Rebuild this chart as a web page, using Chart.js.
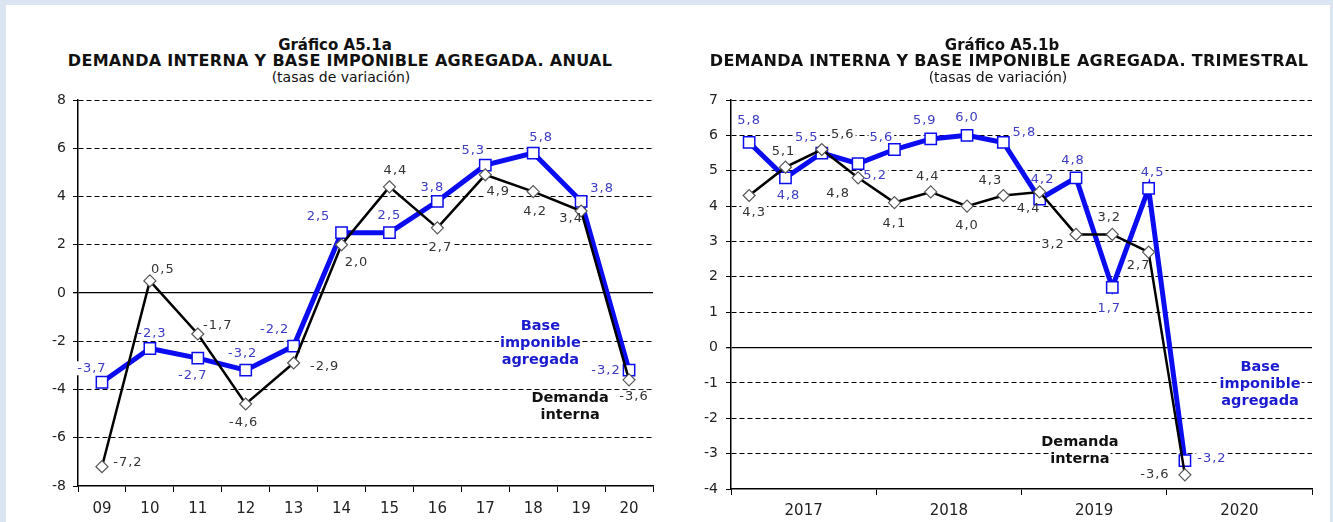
<!DOCTYPE html>
<html>
<head>
<meta charset="utf-8">
<script src="https://cdn.jsdelivr.net/npm/chart.js@4.4.0/dist/chart.umd.min.js"></script>
<style>
  html, body { margin: 0; padding: 0; background: #dbe5f1; }
  #frame { position: absolute; left: 6px; top: 5px; width: 1324px; height: 517px; background: #fff; }
  .box { position: absolute; top: 0; height: 517px; }
  #boxA { left: 0; width: 662px; }
  #boxB { left: 664px; width: 660px; }
  .ttl { position: absolute; left: 0; right: 0; text-align: center; color: #111; white-space: nowrap;
         font-family: "DejaVu Sans", sans-serif; line-height: 16px; }
  .t1 { top: 32px; font-weight: bold; font-size: 15px; }
  .t2 { top: 48px; font-weight: bold; font-size: 16px; letter-spacing: 0.3px; }
  .t3 { top: 64px; font-size: 14px; }
  canvas { position: absolute; left: 0; top: 0; }
</style>
</head>
<body>
<div id="frame">
  <div class="box" id="boxA">
    <div class="ttl t1" style="left:-4px;right:0">Gráfico A5.1a</div>
    <div class="ttl t2" style="left:6px;right:0">DEMANDA INTERNA Y BASE IMPONIBLE AGREGADA. ANUAL</div>
    <div class="ttl t3" style="left:8px;right:0">(tasas de variación)</div>
    <canvas id="chartA"></canvas>
  </div>
  <div class="box" id="boxB">
    <div class="ttl t1" style="left:4px;right:0">Gráfico A5.1b</div>
    <div class="ttl t2" style="left:18px;right:0">DEMANDA INTERNA Y BASE IMPONIBLE AGREGADA. TRIMESTRAL</div>
    <div class="ttl t3" style="left:-4px;right:0">(tasas de variación)</div>
    <canvas id="chartB"></canvas>
  </div>
</div>
<script>
// ---- annual chart data ----
const yearsA = ['09', '10', '11', '12', '13', '14', '15', '16', '17', '18', '19', '20'];
const demandaA = [-7.2, 0.5, -1.7, -4.6, -2.9, 2.0, 4.4, 2.7, 4.9, 4.2, 3.4, -3.6];
const baseA = [-3.7, -2.3, -2.7, -3.2, -2.2, 2.5, 2.5, 3.8, 5.3, 5.8, 3.8, -3.2];

// ---- quarterly chart data ----
const quartersB = [
  '2017T1', '2017T2', '2017T3', '2017T4', '2018T1', '2018T2', '2018T3', '2018T4',
  '2019T1', '2019T2', '2019T3', '2019T4', '2020T1', '2020T2', '2020T3', '2020T4'
];
const yearLabelsB = ['2017', '2018', '2019', '2020'];
const demandaB = [4.3, 5.1, 5.6, 4.8, 4.1, 4.4, 4.0, 4.3, 4.4, 3.2, 3.2, 2.7, -3.6];
const baseB = [5.8, 4.8, 5.5, 5.2, 5.6, 5.9, 6.0, 5.8, 4.2, 4.8, 1.7, 4.5, -3.2];

// label offsets (px from the point) for the value labels
const demandaAOff = [[26,-4],[13,-11],[20,-8],[-2,19],[31,4],[15,18],[6,-16],[3,20],[13,17],[2,20],[-10,8],[5,17]];
const baseAOff = [[-10,-14],[2,-15],[-5,17],[-3,-17],[-19,-16],[-23,-16],[0,-17],[-5,-14],[-12,-15],[8,-15],[21,-13],[-23,0]];
const demandaBOff = [[5,17],[-2,-16],[21,-15],[-20,16],[0,21],[-3,-15],[0,20],[-13,-15],[-11,17],[-23,10],[-3,-17],[-10,14],[-30,0]];
const baseBOff = [[0,-22],[3,18],[-15,-15],[17,12],[-13,-12],[-6,-18],[0,-18],[21,-10],[3,-19],[-3,-17],[-3,21],[4,-16],[27,-2]];

const FONT = '"DejaVu Sans", sans-serif';
const BLUE = '#0c0cf0';
const BLUE_TXT = '#3b3bc4';
const fmt = v => v.toFixed(1).replace('.', ',');

// draws value labels (white box behind, text above) and the series notes
function makeLabels(offsets, colors, notes) {
  return {
    id: 'ptLabels',
    beforeDatasetsDraw(chart) {
      const ctx = chart.ctx;
      ctx.save();
      ctx.font = '13px ' + FONT;
      ctx.letterSpacing = '1px';
      chart.data.datasets.forEach((ds, di) => {
        const meta = chart.getDatasetMeta(di);
        meta.data.forEach((pt, i) => {
          const o = offsets[di][i];
          if (!o) return;
          const w = ctx.measureText(fmt(ds.data[i])).width;
          ctx.fillStyle = '#fff';
          ctx.fillRect(pt.x + o[0] - w / 2 - 1, pt.y + o[1] - 7, w + 2, 14);
        });
      });
      ctx.letterSpacing = '0px';
      ctx.font = 'bold 14.5px ' + FONT;
      notes.forEach(n => {
        const x = chart.scales.x.getPixelForValue(n.x);
        const y = chart.scales.y.getPixelForValue(n.y);
        n.text.forEach((t, k) => {
          const w = ctx.measureText(t).width;
          ctx.fillStyle = '#fff';
          ctx.fillRect(x - w / 2 - 1, y + k * 17 - 8, w + 2, 16);
        });
      });
      ctx.restore();
    },
    afterDatasetsDraw(chart) {
      const ctx = chart.ctx;
      ctx.save();
      ctx.textAlign = 'center';
      ctx.textBaseline = 'middle';
      ctx.font = '13px ' + FONT;
      ctx.letterSpacing = '1px';
      chart.data.datasets.forEach((ds, di) => {
        const meta = chart.getDatasetMeta(di);
        ctx.fillStyle = colors[di];
        meta.data.forEach((pt, i) => {
          const o = offsets[di][i];
          if (!o) return;
          ctx.fillText(fmt(ds.data[i]), pt.x + o[0], pt.y + o[1]);
        });
      });
      ctx.letterSpacing = '0px';
      ctx.font = 'bold 14.5px ' + FONT;
      notes.forEach(n => {
        const x = chart.scales.x.getPixelForValue(n.x);
        const y = chart.scales.y.getPixelForValue(n.y);
        ctx.fillStyle = n.color;
        n.text.forEach((t, k) => ctx.fillText(t, x, y + k * 17));
      });
      ctx.restore();
    }
  };
}

function yAxis(min, max, step, labelPad) {
  return {
    min: min, max: max,
    afterFit: s => { s.width = 45; },
    ticks: { stepSize: step, color: '#222', font: { family: FONT, size: 14 }, padding: labelPad },
    grid: {
      color: c => (c.tick && c.tick.value === min ? 'rgba(0,0,0,0)' : '#000'),
      lineWidth: c => (c.tick && c.tick.value === 0 ? 1.3 : 1),
      tickColor: '#000', tickLength: 5, tickBorderDash: []
    },
    border: { color: '#000', width: 1.5, dash: c => (c.tick && c.tick.value === 0 ? [] : [5, 3]) }
  };
}

function seriesStyle(black) {
  return black ? {
    borderColor: '#000', borderWidth: 2.5, tension: 0,
    pointStyle: 'rectRot', pointRadius: 6, pointHoverRadius: 6,
    pointBackgroundColor: '#fff', pointBorderColor: '#555', pointBorderWidth: 1.2
  } : {
    borderColor: BLUE, borderWidth: 5, tension: 0,
    pointStyle: 'rect', pointRadius: 8, pointHoverRadius: 8,
    pointBackgroundColor: '#fff', pointBorderColor: BLUE, pointBorderWidth: 1.5
  };
}

Chart.defaults.font.family = FONT;
Chart.defaults.animation = false;

// ---- chart A (annual) ----
new Chart(document.getElementById('chartA'), {
  type: 'line',
  data: {
    labels: yearsA,
    datasets: [
      Object.assign({ label: 'Demanda interna', data: demandaA }, seriesStyle(true)),
      Object.assign({ label: 'Base imponible agregada', data: baseA }, seriesStyle(false))
    ]
  },
  options: {
    responsive: true, maintainAspectRatio: false,
    layout: { padding: { left: 27, right: 15, top: 95, bottom: 0 } },
    plugins: { legend: { display: false }, tooltip: { enabled: false } },
    scales: {
      x: {
        offset: true,
        afterFit: s => { s.height = 36; },
        ticks: { color: '#222', font: { family: FONT, size: 15 }, padding: 8, maxRotation: 0 },
        grid: { offset: true, drawOnChartArea: false, color: '#000', tickLength: 6 },
        border: { color: '#000', width: 1.5 }
      },
      y: yAxis(-8, 8, 2, 7)
    }
  },
  plugins: [makeLabels([demandaAOff, baseAOff], ['#333', BLUE_TXT], [
    { text: ['Base', 'imponible', 'agregada'], color: '#1a1ad0', x: 9.15, y: -1.37 },
    { text: ['Demanda', 'interna'], color: '#111', x: 9.77, y: -4.36 }
  ])]
});

// ---- chart B (quarterly) ----
new Chart(document.getElementById('chartB'), {
  type: 'line',
  data: {
    labels: quartersB,
    datasets: [
      Object.assign({ label: 'Demanda interna', data: demandaB }, seriesStyle(true)),
      Object.assign({ label: 'Base imponible agregada', data: baseB }, seriesStyle(false))
    ]
  },
  options: {
    responsive: true, maintainAspectRatio: false,
    layout: { padding: { left: 16, right: 18, top: 95, bottom: 0 } },
    plugins: { legend: { display: false }, tooltip: { enabled: false } },
    scales: {
      x: { display: false, offset: true },
      xYear: {
        type: 'category', position: 'bottom', labels: yearLabelsB, offset: true,
        afterFit: s => { s.height = 33; },
        ticks: { color: '#222', font: { family: FONT, size: 15 }, padding: 7, maxRotation: 0 },
        grid: { offset: true, drawOnChartArea: false, color: '#000', tickLength: 6 },
        border: { color: '#000', width: 1.5 }
      },
      y: yAxis(-4, 7, 1, 8)
    }
  },
  plugins: [makeLabels([demandaBOff, baseBOff], ['#333', BLUE_TXT], [
    { text: ['Base', 'imponible', 'agregada'], color: '#1a1ad0', x: 14.07, y: -0.56 },
    { text: ['Demanda', 'interna'], color: '#111', x: 9.11, y: -2.68 }
  ])]
});
</script>
</body>
</html>
